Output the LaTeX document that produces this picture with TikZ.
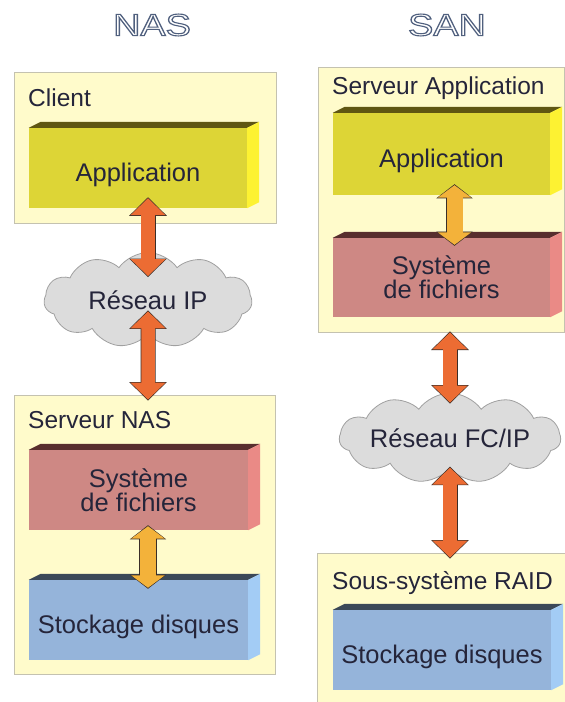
\documentclass[tikz,border=0pt]{standalone}
\usepackage{fontspec}
\setmainfont{Liberation Sans}
\usepackage{xcolor}
\usepackage{tikz}
\usetikzlibrary{shapes.symbols,arrows.meta,calc}
\definecolor{panelfill}{HTML}{FFFBCB}
\definecolor{paneledge}{HTML}{C4C2B0}
\definecolor{appfront}{HTML}{DDD536}
\definecolor{apptop}{HTML}{5F5612}
\definecolor{appside}{HTML}{FDF232}
\definecolor{fsfront}{HTML}{CE8884}
\definecolor{fstop}{HTML}{582E2E}
\definecolor{fsside}{HTML}{EA8A86}
\definecolor{diskfront}{HTML}{95B4DA}
\definecolor{disktop}{HTML}{3B4858}
\definecolor{diskside}{HTML}{A3CCF5}
\definecolor{cloudfill}{HTML}{DCDCDC}
\definecolor{cloudedge}{HTML}{A0A0A0}
\definecolor{netarrow}{HTML}{EC6C33}
\definecolor{localarrow}{HTML}{F3B23A}
\definecolor{arrowedge}{HTML}{3A2E28}
\definecolor{ink}{HTML}{25253A}
\definecolor{titleedge}{HTML}{50607E}
% stroked (hollow) letters for the column titles
\newcommand{\hollow}[1]{\special{pdf:literal direct 1 Tr 1.1 w}#1\special{pdf:literal direct 0 Tr}}
\newcommand{\boxfont}{\fontsize{25.5}{24}\selectfont}
\newcommand{\panelfont}{\fontsize{24.5}{28}\selectfont}
\tikzstyle{title} = [font=\fontsize{31}{31}\selectfont, text=titleedge, inner sep=0pt]
\tikzstyle{panel} = [draw=paneledge, fill=panelfill, line width=0.8pt, inner sep=0pt]
\tikzstyle{paneltitle} = [anchor=base west, font=\panelfont, text=ink, inner sep=0pt]
\tikzstyle{front} = [inner sep=0pt, minimum height=80pt, align=center, font=\boxfont, text=ink]
\tikzstyle{oneline} = [text height=32pt, text depth=5pt]
\tikzstyle{cloudnet} = [cloud, cloud puffs=11, cloud puff arc=110, cloud ignores aspect, draw=cloudedge, fill=cloudfill, line width=0.8pt, inner sep=0pt, font=\boxfont, text=ink]
\tikzstyle{netlink} = [line width=13.5pt, draw=netarrow, {Triangle[width=34pt,length=17pt]}-{Triangle[width=34pt,length=17pt]},
  preaction={draw=arrowedge, line width=15pt, shorten <=-1pt, shorten >=-1pt,
    arrows={Triangle[width=36.6pt,length=18.6pt]-Triangle[width=36.6pt,length=18.6pt]}}]
\tikzstyle{locallink} = [line width=16pt, draw=localarrow, {Triangle[width=33pt,length=12.5pt]}-{Triangle[width=33pt,length=12.5pt]},
  preaction={draw=arrowedge, line width=17.6pt, shorten <=-1pt, shorten >=-1pt,
    arrows={Triangle[width=35.6pt,length=14.1pt]-Triangle[width=35.6pt,length=14.1pt]}}]
% top and right faces of a slab, #1 = front node
\newcommand{\slab}[3]{%
  \fill[#2] (#1.north west) -- ++(12,-6) -- ($(#1.north east)+(12,-6)$) -- (#1.north east) -- cycle;
  \fill[#3] (#1.north east) -- ++(12,-6) -- ($(#1.south east)+(12,-6)$) -- (#1.south east) -- cycle;
}

\begin{document}
\begin{tikzpicture}[x=1pt,y=-1pt]
\useasboundingbox (0,0) rectangle (565,702);
\fill[white] (0,0) rectangle (565,702);

\node[title] (nastitle) at (152,25) {\scalebox{1.22}[1]{\hollow{NAS}}};
\node[title] (santitle) at (447,25) {\scalebox{1.22}[1]{\hollow{SAN}}};

% NAS column
\node[panel, minimum width=262pt, minimum height=151pt] (client) at (145,147.5) {};
\node[paneltitle] (clientname) at (28,106) {Client};
\node[front, oneline, fill=appfront, minimum width=218pt] (app1) at (138,168) {Application};
\slab{app1}{apptop}{appside}

\node[panel, minimum width=261pt, minimum height=279pt] (nassrv) at (144.5,534.5) {};
\node[paneltitle] (nassrvname) at (28,428) {Serveur NAS};
\node[front, fill=fsfront, minimum width=219pt] (fs1) at (138.5,490) {Système\\de fichiers};
\slab{fs1}{fstop}{fsside}
\node[front, oneline, fill=diskfront, minimum width=219pt] (disk1) at (138.5,620) {Stockage disques};
\slab{disk1}{disktop}{diskside}

\node[cloudnet, minimum width=208pt, minimum height=95pt] (ip) at (148,300) {Réseau IP};

% SAN column
\node[panel, minimum width=246pt, minimum height=265pt] (appsrv) at (441,199.5) {};
\node[paneltitle] (appsrvname) at (332,94) {Serveur Application};
\node[front, oneline, fill=appfront, minimum width=217pt, minimum height=82pt] (app2) at (441.5,154) {Application};
\slab{app2}{apptop}{appside}
\node[front, fill=fsfront, minimum width=217pt, minimum height=79pt] (fs2) at (441.5,277.5) {Système\\de fichiers};
\slab{fs2}{fstop}{fsside}

\node[panel, minimum width=253pt, minimum height=157pt] (raid) at (443.5,631.5) {};
\node[paneltitle] (raidname) at (332,589) {Sous-système RAID};
\node[front, oneline, fill=diskfront, minimum width=218pt] (disk2) at (442,650) {Stockage disques};
\slab{disk2}{disktop}{diskside}

\node[cloudnet, minimum width=214pt, minimum height=90pt] (fc) at (450,438) {Réseau FC/IP};

% links
\draw[netlink] ($(app1.south -| ip)+(0,-10)$) -- ($(ip.north)+(0,24)$);
\draw[netlink] ($(ip.south)+(0,-23)$) -- ($(nassrv.north -| ip)+(0,5)$);
\draw[locallink] ($(fs1.south -| ip)+(0,-4)$) -- ($(disk1.north -| ip)+(0,8)$);
\draw[locallink] ($(app2.south)+(13,-10)$) -- ($(fs2.north)+(13,7)$);
\draw[netlink] (appsrv.south -| fc) -- ($(fc.north)+(0,10)$);
\draw[netlink] ($(fc.south)+(0,-1)$) -- ($(raid.north -| fc)+(0,5)$);
\end{tikzpicture}
\end{document}
